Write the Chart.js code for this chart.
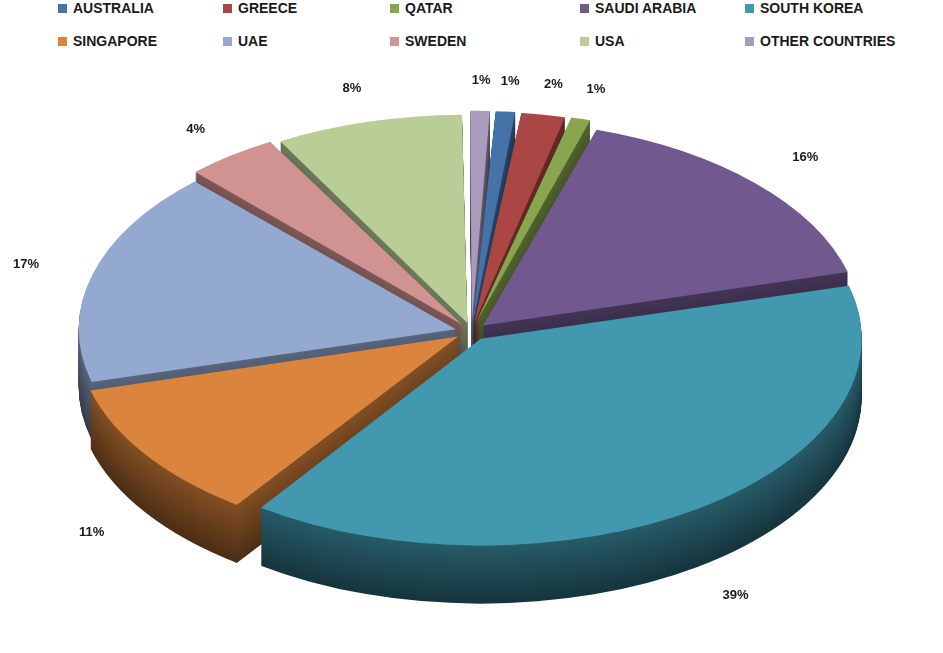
<!DOCTYPE html>
<html><head><meta charset="utf-8">
<script src="https://cdn.jsdelivr.net/npm/chart.js@4"></script>
<style>
body{margin:0;background:#fff;font-family:"Liberation Sans",Arial,sans-serif;}
#legend{position:absolute;left:0;top:0;width:943px;height:56px;}
.li{position:absolute;font-weight:bold;font-size:14px;color:#1a1a1a;white-space:nowrap;}
.li span{display:inline-block;width:9px;height:9px;margin-right:6px;vertical-align:0px;}
#wrap{position:absolute;left:0;top:70px;width:943px;height:583px;}
</style></head><body>
<div id="legend"></div>
<div id="wrap"><canvas id="c"></canvas></div>
<script>
const categories=["AUSTRALIA","GREECE","QATAR","SAUDI ARABIA","SOUTH KOREA","SINGAPORE","UAE","SWEDEN","USA","OTHER COUNTRIES"];
const values=[1,2,1,16,39,11,17,4,8,1];
const colors=["#4572A7","#AA4643","#89A54E","#71588F","#4198AF","#DB843D","#93A9CF","#D19392","#B9CD96","#A99BBD"];
const legendPos=[[58,0],[223,0],[390,0],[580,0],[745,0],[58,33],[223,33],[390,33],[580,33],[745,33]];
const lg=document.getElementById('legend');
categories.forEach((c,i)=>{const d=document.createElement('div');d.className='li';d.style.left=legendPos[i][0]+'px';d.style.top=legendPos[i][1]+'px';d.innerHTML='<span style="background:'+colors[i]+'"></span>'+c;lg.appendChild(d);});
const SX=1.62,SY=0.88,DEPTH=58;
function dark(h,f){const n=parseInt(h.slice(1),16);return 'rgb('+Math.round((n>>16&255)*f)+','+Math.round((n>>8&255)*f)+','+Math.round((n&255)*f)+')';}
const pie3d={id:'pie3d',
beforeDatasetsDraw(chart){const ctx=chart.ctx;const a=chart.getDatasetMeta(0).data;const cx=a[0].x,cy=a[0].y;
 ctx.save();ctx.translate(cx,cy);ctx.scale(SX,SY);ctx.translate(-cx,-cy);
 for(let d=DEPTH;d>0;d-=1){ctx.save();ctx.translate(0,d/SY);
  a.forEach((el,i)=>{const o=el.options.backgroundColor;el.options.backgroundColor=dark(colors[i],0.35+0.25*(1-d/DEPTH));el.draw(ctx);el.options.backgroundColor=o;});
  ctx.restore();}
},
afterDatasetsDraw(chart){const ctx=chart.ctx;ctx.restore();
 const a=chart.getDatasetMeta(0).data;const cx=a[0].x,cy=a[0].y;
 ctx.fillStyle='#1a1a1a';ctx.font='bold 13px "Liberation Sans",Arial';ctx.textAlign='center';ctx.textBaseline='middle';
 a.forEach((el,i)=>{const m=(el.startAngle+el.endAngle)/2;const r=el.outerRadius+40+14;
  let px=cx+SX*r*Math.cos(m),py=cy+SY*r*Math.sin(m);if(Math.sin(m)>0.2)py+=DEPTH;
  ctx.fillText(values[i]+'%',px,py);});
}};
new Chart(document.getElementById('c'),{type:'pie',
data:{labels:categories,datasets:[{data:values,backgroundColor:colors,borderWidth:0,offset:40}]},
options:{responsive:true,maintainAspectRatio:false,animation:false,rotation:3,
 layout:{padding:{top:10,bottom:70,left:0,right:0}},
 plugins:{legend:{display:false},tooltip:{enabled:false}}},
plugins:[pie3d]});
</script></body></html>
